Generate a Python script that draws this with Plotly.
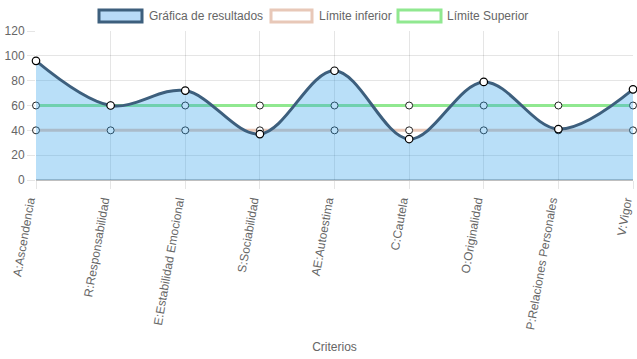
import plotly.graph_objects as go

categorias = ["A:Ascendencia", "R:Responsabilidad", "E:Estabilidad Emocional",
              "S:Sociabilidad", "AE:Autoestima", "C:Cautela", "O:Originalidad",
              "P:Relaciones Personales", "V:Vigor"]
resultados = [96, 60, 72, 37, 88, 33, 79, 41, 73]
limite_inferior = [40, 40, 40, 40, 40, 40, 40, 40, 40]
limite_superior = [60, 60, 60, 60, 60, 60, 60, 60, 60]

FONT = "Liberation Sans, Arial, Helvetica, sans-serif"
GRAY = "#666666"
BLUE_FILL = "rgba(54,162,235,0.35)"
BLUE_LINE = "#3d5f7d"
PINK = "rgba(232,200,184,1)"
GREEN = "rgba(144,232,144,1)"

W, H = 637, 359
L, R, T, B = 36, 4, 31, 179

def px_x(p):
    return (p - L) / (W - L - R)

def px_y(p):
    return (H - B - p) / (H - T - B)

fig = go.Figure()

marker_limit = dict(symbol="circle", size=7, color="white",
                    line=dict(color="#222222", width=1))

fig.add_trace(go.Scatter(x=categorias, y=limite_superior, mode="lines+markers",
                         line=dict(color=GREEN, width=3), marker=marker_limit,
                         showlegend=False, cliponaxis=False))
fig.add_trace(go.Scatter(x=categorias, y=limite_inferior, mode="lines+markers",
                         line=dict(color=PINK, width=3), marker=marker_limit,
                         showlegend=False, cliponaxis=False))
fig.add_trace(go.Scatter(x=categorias, y=resultados, mode="lines",
                         line=dict(color=BLUE_LINE, width=3, shape="spline", smoothing=1.0),
                         fill="tozeroy", fillcolor=BLUE_FILL,
                         showlegend=False, cliponaxis=False))
fig.add_trace(go.Scatter(x=categorias, y=resultados, mode="markers",
                         marker=dict(symbol="circle", size=7.5, color="white",
                                     line=dict(color="black", width=1.2)),
                         showlegend=False, cliponaxis=False))

# Chart.js-style legend drawn with shapes + annotations
legend_items = [
    ("Gráfica de resultados", "rgba(184,218,247,1)", BLUE_LINE, 99, 142, 147),
    ("Límite inferior", "white", PINK, 271, 312, 317),
    ("Límite Superior", "white", GREEN, 398, 441, 445),
]
shapes = []
annotations = []
for name, fc, lc, x0, x1, tx in legend_items:
    shapes.append(dict(type="rect", xref="paper", yref="paper",
                       x0=px_x(x0), x1=px_x(x1), y0=px_y(22), y1=px_y(10),
                       fillcolor=fc, line=dict(color=lc, width=3)))
    annotations.append(dict(xref="paper", yref="paper", x=px_x(tx), y=px_y(16),
                            xanchor="left", yanchor="middle", text=name,
                            showarrow=False,
                            font=dict(family=FONT, size=12, color=GRAY)))

fig.update_layout(
    width=W, height=H,
    margin=dict(l=L, r=R, t=T, b=B),
    paper_bgcolor="white", plot_bgcolor="white",
    font=dict(family=FONT, size=12, color=GRAY),
    showlegend=False,
    shapes=shapes, annotations=annotations,
    xaxis=dict(type="category", range=[0, 8], showgrid=True, automargin=False,
               gridcolor="rgba(0,0,0,0.1)", ticks="outside", ticklen=8,
               tickcolor="rgba(0,0,0,0.1)", tickangle=-80, ticklabelshift=-7,
               tickfont=dict(family=FONT, size=12, color=GRAY),
               title=dict(text="Criterios", font=dict(family=FONT, size=12, color=GRAY),
                          standoff=12),
               showline=False, zeroline=False),
    yaxis=dict(range=[0, 120], dtick=20, showgrid=True, automargin=False,
               gridcolor="rgba(0,0,0,0.1)", ticks="outside", ticklen=8,
               tickcolor="rgba(0,0,0,0.1)",
               tickfont=dict(family=FONT, size=12, color=GRAY),
               zeroline=True, zerolinecolor="rgba(0,0,0,0.25)", zerolinewidth=2,
               showline=False),
)

fig.write_html("out.html", config={"displayModeBar": False},
               post_script="document.body.style.margin='0';document.body.style.padding='0';")
